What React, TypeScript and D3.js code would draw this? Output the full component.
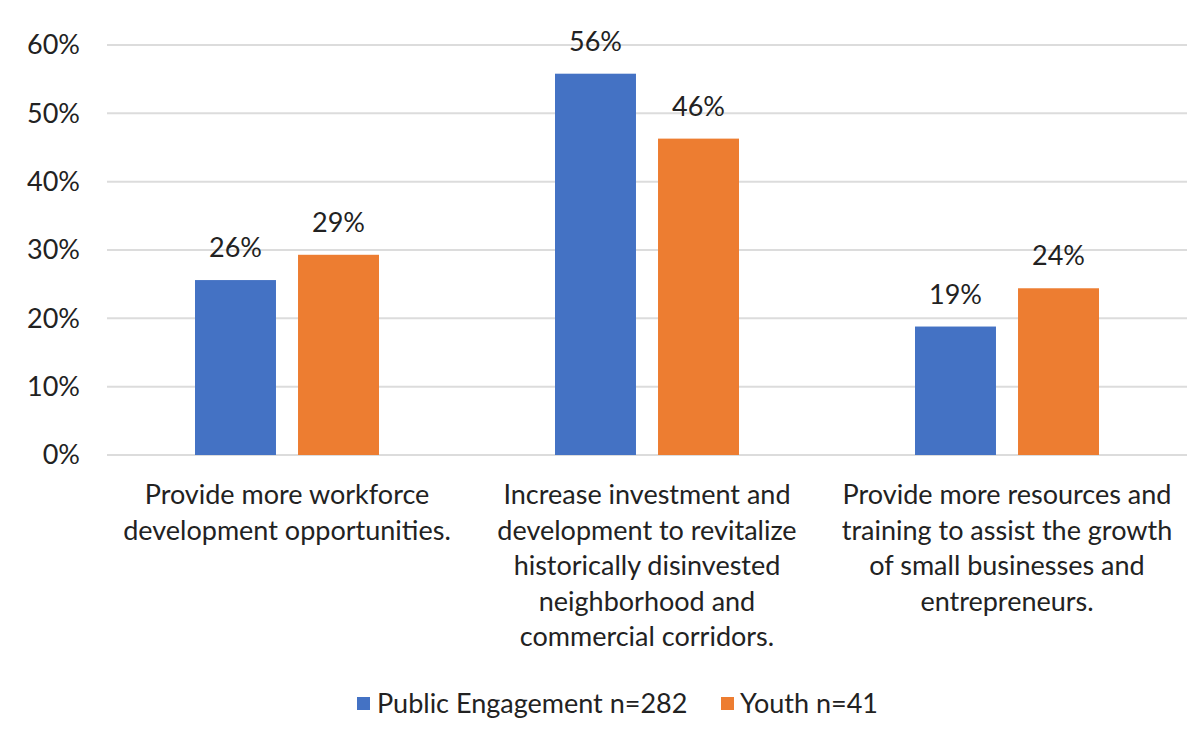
import React from "react";
import * as d3 from "d3";

const categories: string[][] = [
  ["Provide more workforce", "development opportunities."],
  ["Increase investment and", "development to revitalize", "historically disinvested", "neighborhood and", "commercial corridors."],
  ["Provide more resources and", "training to assist the growth", "of small businesses and", "entrepreneurs."],
];
const seriesNames = ["Public Engagement n=282", "Youth n=41"];
const publicEngagement = [0.256, 0.558, 0.188];
const youth = [0.293, 0.463, 0.244];
const yTicks = [0, 0.1, 0.2, 0.3, 0.4, 0.5, 0.6];
const colors = ["#4472C4", "#ED7D31"];

const W = 1201;
const H = 744;
const FONT = "Lato, 'Open Sans', sans-serif";
const TEXT = "#222222";

export default function App() {
  const series = [publicEngagement, youth];
  const idx = categories.map((_, i) => i);
  const x0 = d3.scaleBand<number>().domain(idx).range([107, 1187]).padding(0);
  const x1 = d3.scaleBand<number>().domain([0, 1]).range([88, 272]).paddingInner(0.214).paddingOuter(0);
  const y = d3.scaleLinear().domain([0, 0.6]).range([455, 45]);
  const fmt = d3.format(".0%");
  const fs = 27;

  return (
    <svg width={W} height={H} style={{ position: "absolute", left: 0, top: 0, display: "block", background: "#fff" }} fontFamily={FONT}>
      <rect x={0} y={0} width={W} height={H} fill="#fff" />
      {yTicks.map((t) => (
        <g key={t}>
          <line x1={107} x2={1187} y1={y(t)} y2={y(t)} stroke="#dcdcdc" strokeWidth={2} />
          <text x={80} y={y(t)} dy="0.35em" textAnchor="end" fontSize={fs} fill={TEXT}>
            {fmt(t)}
          </text>
        </g>
      ))}
      {idx.map((ci) => (
        <g key={ci} transform={`translate(${x0(ci)},0)`}>
          {series.map((s, si) => (
            <g key={si}>
              <rect x={x1(si)} y={y(s[ci])} width={x1.bandwidth()} height={y(0) - y(s[ci])} fill={colors[si]} />
              <text x={(x1(si) as number) + x1.bandwidth() / 2} y={y(s[ci]) - 23} textAnchor="middle" fontSize={fs} fill={TEXT}>
                {fmt(s[ci])}
              </text>
            </g>
          ))}
          <text textAnchor="middle" fontSize={fs} fill={TEXT}>
            {categories[ci].map((line, li) => (
              <tspan key={li} x={x0.bandwidth() / 2} y={504 + li * 35.5}>
                {line}
              </tspan>
            ))}
          </text>
        </g>
      ))}
      <g>
        <rect x={357} y={697} width={13} height={13} fill={colors[0]} />
        <text x={377} y={713} fontSize={fs} fill={TEXT}>{seriesNames[0]}</text>
        <rect x={721} y={697} width={13} height={13} fill={colors[1]} />
        <text x={740} y={713} fontSize={fs} fill={TEXT}>{seriesNames[1]}</text>
      </g>
    </svg>
  );
}
